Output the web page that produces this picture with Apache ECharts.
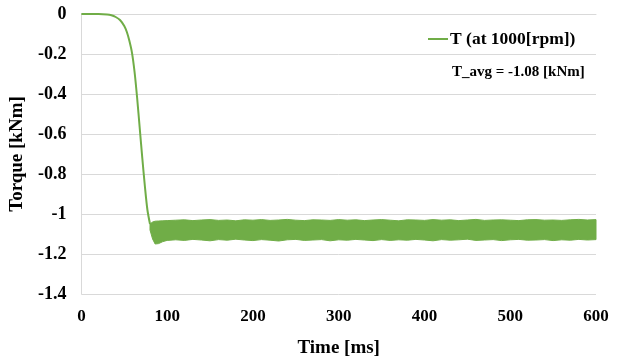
<!DOCTYPE html>
<html>
<head>
<meta charset="utf-8">
<script src="https://cdn.jsdelivr.net/npm/echarts@6/dist/echarts.min.js"></script>
<style>
  html, body { margin: 0; padding: 0; background: #fff; }
  #chart { width: 622px; height: 363px; }
</style>
</head>
<body>
<div id="chart"></div>
<script>
const seriesName = 'T (at 1000[rpm])'
const avgLabel = 'T_avg = -1.08 [kNm]'
const yTicks = [0, -0.2, -0.4, -0.6, -0.8, -1, -1.2, -1.4]
const xTicks = [0, 100, 200, 300, 400, 500, 600]

// transient: torque ramp-down before steady state
const rampTime = [0, 10, 20, 30, 35, 40, 45, 50, 53, 56, 59, 62, 65, 68, 71, 74, 77, 80]
const rampTorque = [0, 0, 0, -0.002, -0.006, -0.015, -0.03, -0.06, -0.09, -0.135, -0.194, -0.29, -0.42, -0.57, -0.72, -0.86, -0.98, -1.05]

// steady state ripple, upper and lower envelope
const bandTime = [80, 83, 86, 90, 95, 100,
  110, 120, 130, 140, 150, 160, 170, 180, 190, 200,
  210, 220, 230, 240, 250, 260, 270, 280, 290, 300,
  310, 320, 330, 340, 350, 360, 370, 380, 390, 400,
  410, 420, 430, 440, 450, 460, 470, 480, 490, 500,
  510, 520, 530, 540, 550, 560, 570, 580, 590, 600]
const bandUpper = [-1.05, -1.04, -1.036, -1.035, -1.034, -1.033,
  -1.031, -1.029, -1.033, -1.030, -1.028, -1.032, -1.030, -1.034, -1.029, -1.031,
  -1.028, -1.032, -1.030, -1.027, -1.031, -1.033, -1.029, -1.030, -1.032, -1.028,
  -1.031, -1.029, -1.033, -1.030, -1.028, -1.031, -1.034, -1.029, -1.030, -1.032,
  -1.028, -1.031, -1.029, -1.033, -1.030, -1.027, -1.032, -1.030, -1.029, -1.031,
  -1.033, -1.029, -1.028, -1.031, -1.030, -1.032, -1.029, -1.027, -1.030, -1.028]
const bandLower = [-1.08, -1.125, -1.15, -1.148, -1.138, -1.132,
  -1.129, -1.132, -1.127, -1.130, -1.134, -1.128, -1.131, -1.126, -1.130, -1.133,
  -1.128, -1.131, -1.135, -1.129, -1.127, -1.132, -1.130, -1.128, -1.134, -1.129,
  -1.131, -1.127, -1.130, -1.133, -1.128, -1.132, -1.129, -1.131, -1.127, -1.130,
  -1.134, -1.128, -1.131, -1.129, -1.126, -1.132, -1.130, -1.128, -1.133, -1.129,
  -1.127, -1.131, -1.130, -1.128, -1.133, -1.129, -1.131, -1.127, -1.130, -1.128]

const green = '#70ad47'
const gridColor = '#d9d9d9'
const font = 'Liberation Serif'

const rampData = rampTime.map((t, i) => [t, rampTorque[i]])
const bandData = bandTime.map((t, i) => [t, bandUpper[i], bandLower[i]])

// one filled polygon: upper envelope left->right, lower envelope right->left
function renderBand(params, api) {
  if (params.dataIndex !== 0) return null
  const top = bandTime.map((t, i) => api.coord([t, bandUpper[i]]))
  const bottom = bandTime.map((t, i) => api.coord([t, bandLower[i]])).reverse()
  return {
    type: 'polygon',
    shape: { points: top.concat(bottom) },
    style: { fill: green, stroke: green, lineWidth: 1 },
  }
}

const chart = echarts.init(document.getElementById('chart'))
chart.setOption({
  animation: false,
  textStyle: { fontFamily: font },
  grid: { left: 81, right: 26, top: 14, bottom: 65 },
  legend: {
    data: [seriesName],
    left: 428,
    top: 30,
    padding: 0,
    icon: 'rect',
    itemWidth: 20,
    itemHeight: 2,
    itemGap: 4,
    textStyle: { fontFamily: font, fontWeight: 'bold', fontSize: 17.5, color: '#000', padding: [0, 0, 0, -3] },
  },
  title: {
    text: avgLabel,
    left: 452,
    top: 65,
    padding: 0,
    textStyle: { fontFamily: font, fontWeight: 'bold', fontSize: 15, color: '#000' },
  },
  xAxis: {
    type: 'value',
    min: xTicks[0],
    max: xTicks[xTicks.length - 1],
    interval: 100,
    name: 'Time [ms]',
    nameLocation: 'middle',
    nameGap: 45,
    nameTextStyle: { fontFamily: font, fontWeight: 'bold', fontSize: 19, color: '#000' },
    axisLine: { show: true, lineStyle: { color: gridColor } },
    axisTick: { show: false },
    axisLabel: { color: '#000', fontWeight: 'bold', fontSize: 17, margin: 14 },
    splitLine: { show: false },
  },
  yAxis: {
    type: 'value',
    min: yTicks[yTicks.length - 1],
    max: yTicks[0],
    interval: 0.2,
    name: 'Torque [kNm]',
    nameLocation: 'middle',
    nameGap: 44,
    nameTextStyle: { fontFamily: font, fontWeight: 'bold', fontSize: 19, color: '#000' },
    axisLine: { show: true, lineStyle: { color: gridColor } },
    axisTick: { show: false },
    axisLabel: {
      color: '#000',
      fontWeight: 'bold',
      fontSize: 18,
      margin: 15,
      formatter: (v) => {
        const t = yTicks.find((k) => Math.abs(k - v) < 1e-6)
        return t === undefined ? '' : String(t)
      },
    },
    splitLine: { lineStyle: { color: gridColor } },
  },
  series: [
    {
      name: seriesName,
      type: 'line',
      data: rampData,
      showSymbol: false,
      smooth: 0.3,
      itemStyle: { color: green },
      lineStyle: { width: 2, color: green },
    },
    {
      name: 'band',
      type: 'custom',
      data: bandData,
      renderItem: renderBand,
      encode: { x: 0, y: [1, 2] },
      silent: true,
    },
  ],
})
</script>
</body>
</html>
